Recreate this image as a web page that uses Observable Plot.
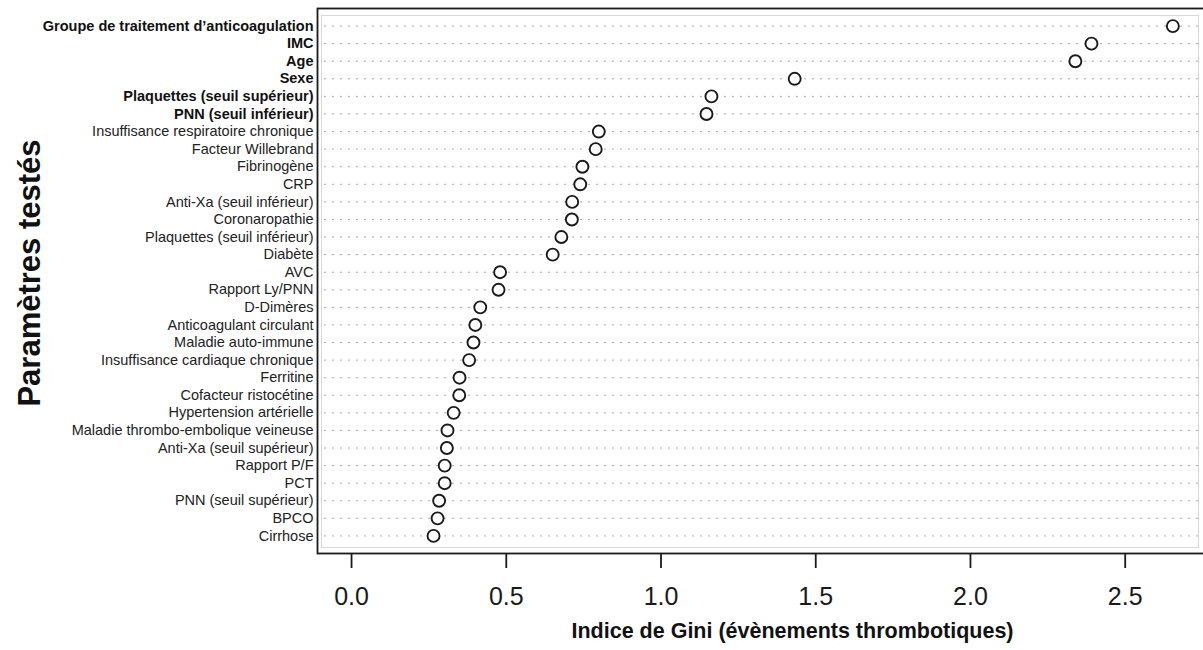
<!DOCTYPE html>
<html>
<head>
<meta charset="utf-8">
<script src="https://cdn.jsdelivr.net/npm/d3@7"></script>
<script src="https://cdn.jsdelivr.net/npm/@observablehq/plot@0.6"></script>
<style>
  html, body { margin: 0; padding: 0; background: #fff; }
  #chart svg { display: block; font-family: "Liberation Sans", Arial, Helvetica, sans-serif; }
</style>
</head>
<body>
<div id="chart"></div>
<script>
const params = [
  "Groupe de traitement d’anticoagulation",
  "IMC",
  "Age",
  "Sexe",
  "Plaquettes (seuil supérieur)",
  "PNN (seuil inférieur)",
  "Insuffisance respiratoire chronique",
  "Facteur Willebrand",
  "Fibrinogène",
  "CRP",
  "Anti-Xa (seuil inférieur)",
  "Coronaropathie",
  "Plaquettes (seuil inférieur)",
  "Diabète",
  "AVC",
  "Rapport Ly/PNN",
  "D-Dimères",
  "Anticoagulant circulant",
  "Maladie auto-immune",
  "Insuffisance cardiaque chronique",
  "Ferritine",
  "Cofacteur ristocétine",
  "Hypertension artérielle",
  "Maladie thrombo-embolique veineuse",
  "Anti-Xa (seuil supérieur)",
  "Rapport P/F",
  "PCT",
  "PNN (seuil supérieur)",
  "BPCO",
  "Cirrhose"
];
const gini = [
  2.654, 2.391, 2.339, 1.432, 1.163, 1.147, 0.799, 0.789, 0.746, 0.739,
  0.713, 0.712, 0.678, 0.650, 0.480, 0.475, 0.416, 0.400, 0.394, 0.380,
  0.349, 0.348, 0.330, 0.310, 0.308, 0.301, 0.301, 0.283, 0.278, 0.265
];
const boldParams = params.slice(0, 6);
const xTicks = [0, 0.5, 1.0, 1.5, 2.0, 2.5];
const xTitle = "Indice de Gini (évènements thrombotiques)";
const yTitle = "Paramètres testés";

const data = params.map((p, i) => ({param: p, gini: gini[i]}));

const chart = Plot.plot({
  width: 1203,
  height: 650,
  marginLeft: 317,
  marginRight: 0,
  marginTop: 8,
  marginBottom: 97,
  style: {fontFamily: '"Liberation Sans", Arial, Helvetica, sans-serif', background: "#fff"},
  x: {domain: [-0.11, 2.753], axis: null},
  y: {type: "point", domain: params, padding: 1, round: false, axis: null},
  marks: [
    Plot.gridY(params, {stroke: "#aaaaaa", strokeOpacity: 1, strokeDasharray: "2,6", strokeWidth: 1, insetLeft: 7, insetRight: 5}),
    Plot.frame({stroke: "#d8d8d8", strokeWidth: 1, insetTop: 7, insetBottom: 6, insetLeft: 4, insetRight: 5}),
    Plot.frame({stroke: "#1a1a1a", strokeWidth: 1.8, insetRight: -6}),
    Plot.axisX({ticks: xTicks, tickFormat: d3.format(".1f"), tickSize: 15, tickPadding: 19, fontSize: 25, stroke: "#1a1a1a", strokeWidth: 1.8, color: "#1a1a1a", label: null}),
    Plot.text(params, {filter: d => boldParams.includes(d), y: d => d, frameAnchor: "left", textAnchor: "end", dx: -4, fontSize: 14.5, fontWeight: "bold", fill: "#111"}),
    Plot.text(params, {filter: d => !boldParams.includes(d), y: d => d, frameAnchor: "left", textAnchor: "end", dx: -4, fontSize: 14.5, fill: "#222"}),
    Plot.dot(data, {x: "gini", y: "param", r: 6, stroke: "#1a1a1a", strokeWidth: 1.9, fill: "white"}),
    Plot.text([xTitle], {frameAnchor: "bottom", dy: 84, dx: 32, fontSize: 21.5, fontWeight: "bold", fill: "#111"}),
    Plot.text([yTitle], {frameAnchor: "left", textAnchor: "middle", dx: -287, dy: -8, rotate: -90, fontSize: 31, fontWeight: "bold", fill: "#111"})
  ]
});
document.getElementById("chart").appendChild(chart);
</script>
</body>
</html>
